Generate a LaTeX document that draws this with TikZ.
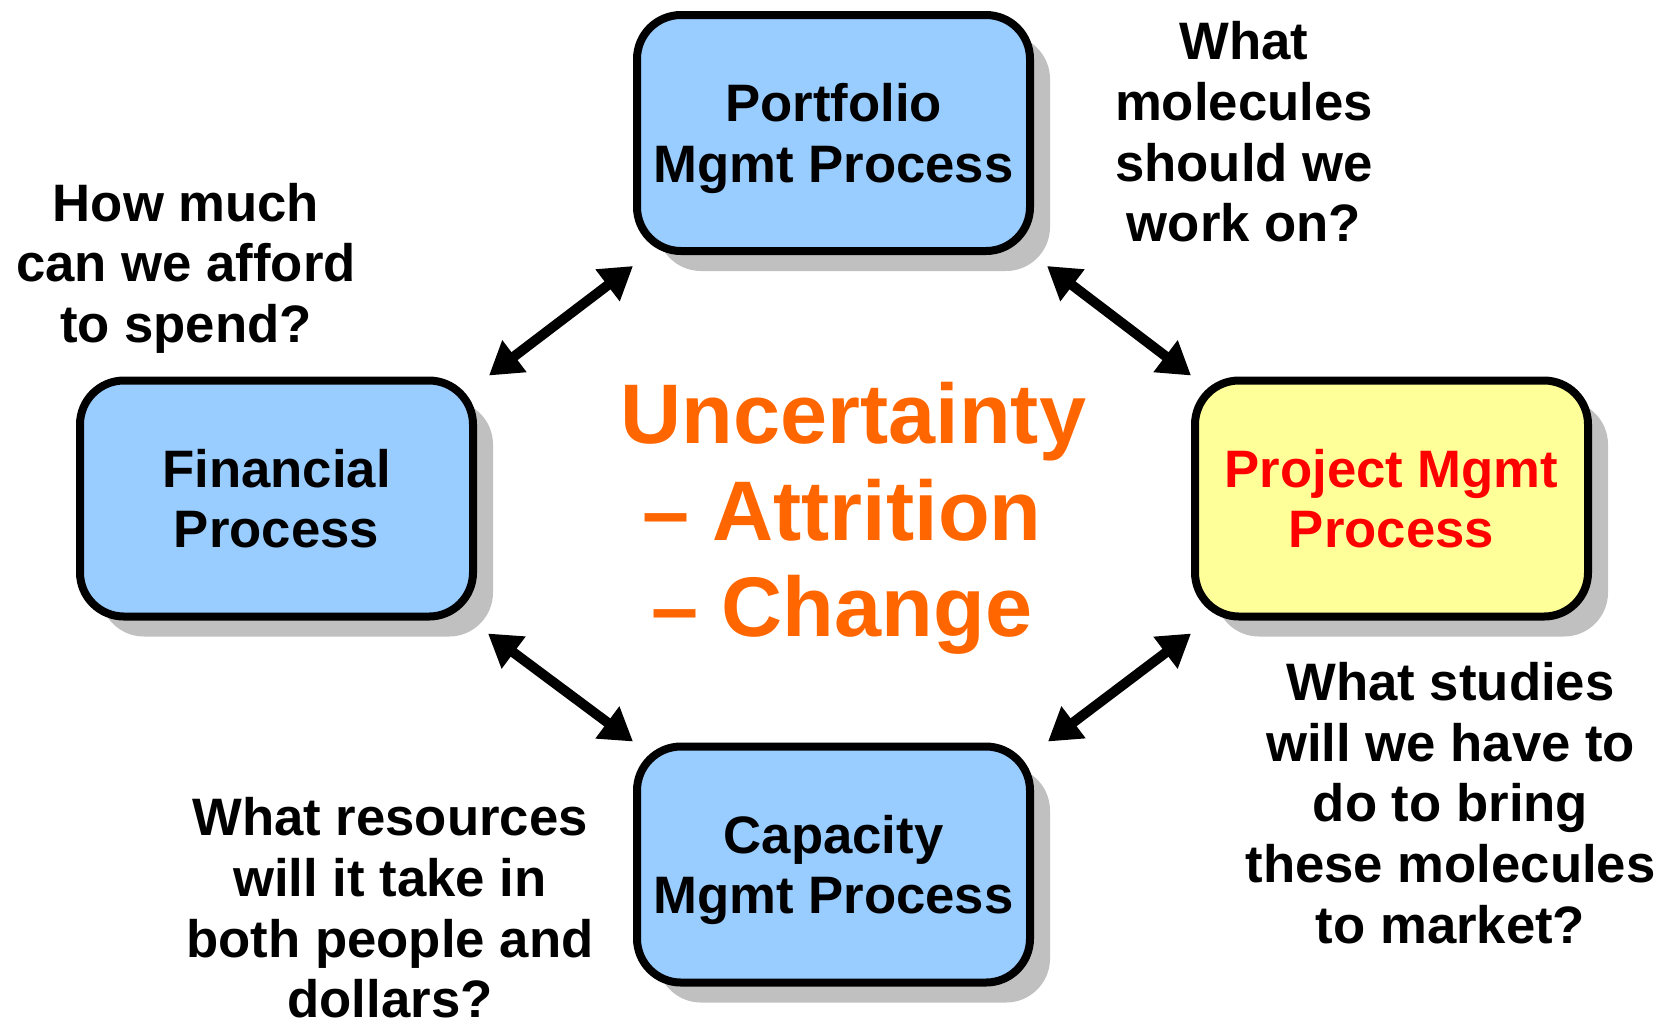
\documentclass[tikz,border=0pt]{standalone}
\usepackage{fontspec}
\setmainfont{Liberation Sans}
\usetikzlibrary{shadows,arrows.meta,calc}

\definecolor{boxblue}{HTML}{99CCFF}
\definecolor{boxyellow}{HTML}{FFFF99}
\definecolor{shadowgray}{HTML}{C0C0C0}
\definecolor{accentorange}{HTML}{FF6600}
\definecolor{accentred}{HTML}{FF0000}

\tikzset{
  process/.style={
    draw=black, line width=4pt, rounded corners=22pt,
    minimum width=196.5pt, minimum height=118pt,
    inner sep=0pt, align=center, fill=boxblue, text depth=0pt,
    font=\fontsize{26.35pt}{30.3pt}\selectfont\bfseries,
    drop shadow={shadow xshift=10pt, shadow yshift=-10pt,
                 fill=shadowgray, opacity=1}
  },
  question/.style={
    inner sep=0pt, align=center,
    font=\fontsize{26.35pt}{30.3pt}\selectfont\bfseries
  },
  centre/.style={
    inner sep=0pt, align=center, text=accentorange,
    font=\fontsize{42.3pt}{48.3pt}\selectfont\bfseries
  },
  biarrow/.style={
    line width=5pt,
    {Triangle[length=16pt,width=19pt]}-{Triangle[length=16pt,width=19pt]}
  }
}

\begin{document}
\begin{tikzpicture}[x=0.5pt,y=-0.5pt]
  \useasboundingbox (0,0) rectangle (1668,1025);

  % the four processes
  \node[process] (port) at (833.5,133) {Portfolio\\Mgmt Process};
  \node[process] (fin)  at (276.5,498.5) {Financial\\Process};
  \node[process, fill=boxyellow, text=accentred] (proj) at (1391.5,498.5) {Project Mgmt\\Process};
  \node[process] (cap)  at (833.5,864.5) {Capacity\\Mgmt Process};

  % centre statement
  \node[centre] (mid) at (853.5,518.5)
    {Uncertainty\\– Attrition\kern0.278em\\– Change\kern0.278em};

  % guiding questions
  \node[question] (qfin)  at (186,268)  {How much\\can we afford\\to spend?};
  \node[question] (qport) at (1244,132) {What\\molecules\\should we\\work on?};
  \node[question] (qproj) at (1450.5,803) {What studies\\will we have to\\do to bring\\these molecules\\to market?};
  \node[question] (qcap)  at (390,908)  {What resources\\will it take in\\both people and\\dollars?};

  % two-way links between the processes
  \draw[biarrow] ($(fin.north east)+(12,-1)$) -- ($(port.south west)+(0,11)$);
  \draw[biarrow] ($(port.south east)+(13,11)$) -- ($(proj.north west)+(0,-1)$);
  \draw[biarrow] ($(fin.south east)+(11,13)$) -- ($(cap.north west)+(0,-1)$);
  \draw[biarrow] ($(proj.south west)+(0,13)$) -- ($(cap.north east)+(14,-1)$);
\end{tikzpicture}
\end{document}
